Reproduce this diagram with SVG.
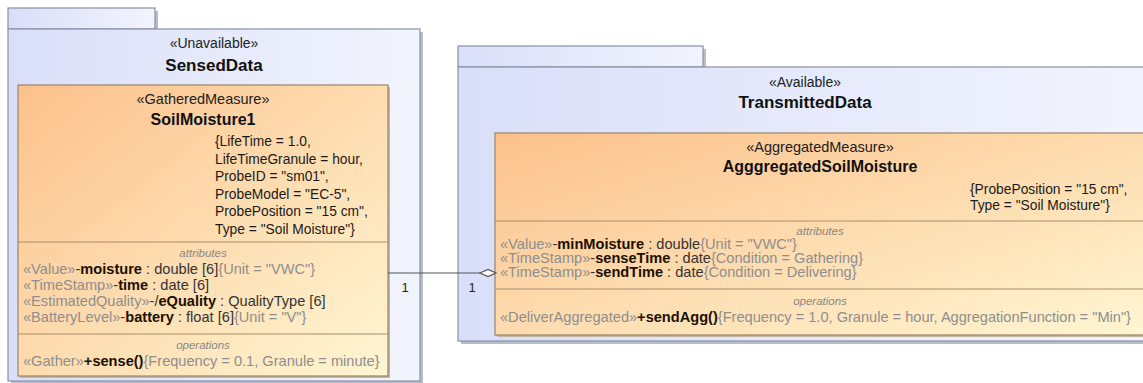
<svg xmlns="http://www.w3.org/2000/svg" width="1143" height="383" viewBox="0 0 1143 383">
<style>
text{font-family:"Liberation Sans",Arial,sans-serif;fill:#222}
.pst{font-size:14px}
.pname{font-size:17px;font-weight:bold;fill:#111}
.cst{font-size:14.5px}
.cname{font-size:16px;font-weight:bold;fill:#111}
.tag{font-size:13.8px;fill:#1a1a1a}
.row{font-size:14.6px;fill:#333}
.comp{font-size:11.5px;font-style:italic;fill:#888}
.g{fill:#8e8e8e}
.b{font-weight:bold;fill:#1c1000}
.pkg{stroke:#8a90a6;stroke-width:1.2}
.pshadow{fill:#b9bdca}
.cls{fill:url(#clsGrad);stroke:#9c8466;stroke-width:1.2}
.cshadow{fill:#c4b7a2}
.div{stroke:#a88d6c;stroke-width:1.2}
.mult{font-size:13px;fill:#222}
</style>
<defs>
<linearGradient id="pkgGrad" x1="0" y1="0" x2="1" y2="0">
<stop offset="0" stop-color="#d9dff9"/>
<stop offset="1" stop-color="#f2f4fd"/>
</linearGradient>
<linearGradient id="clsGrad" x1="0" y1="0" x2="1" y2="1">
<stop offset="0" stop-color="#fcc18b"/>
<stop offset="1" stop-color="#fff6d3"/>
</linearGradient>
</defs>
<rect width="1143" height="383" fill="#ffffff"/>

<g id="SensedData">
<rect class="pshadow" x="11" y="11" width="147" height="21"/>
<rect class="pshadow" x="11" y="32" width="412" height="352"/>
<rect class="pkg" fill="url(#pkgGrad)" x="8" y="8" width="147" height="21"/>
<rect class="pkg" fill="url(#pkgGrad)" x="8" y="29" width="412" height="352"/>
<text class="pst" x="214" y="48" text-anchor="middle">«Unavailable»</text>
<text class="pname" x="214" y="71" text-anchor="middle">SensedData</text>
</g>

<g id="SoilMoisture1">
<rect class="cshadow" x="20" y="87" width="370" height="291"/>
<rect class="cls" x="18" y="85" width="370" height="291"/>
<text class="cst" x="203" y="104" text-anchor="middle">«GatheredMeasure»</text>
<text class="cname" x="203" y="125" text-anchor="middle">SoilMoisture1</text>
<text class="tag" x="215" y="146">{LifeTime = 1.0,</text>
<text class="tag" x="215" y="163.5">LifeTimeGranule = hour,</text>
<text class="tag" x="215" y="181">ProbeID = "sm01",</text>
<text class="tag" x="215" y="198.5">ProbeModel = "EC-5",</text>
<text class="tag" x="215" y="216">ProbePosition = "15 cm",</text>
<text class="tag" x="215" y="233.5">Type = "Soil Moisture"}</text>
<line class="div" x1="18" y1="242" x2="388" y2="242"/>
<text class="comp" x="203" y="257" text-anchor="middle">attributes</text>
<text class="row" x="23" y="274"><tspan class="g">«Value»</tspan>-<tspan class="b">moisture</tspan> : double [6]<tspan class="g">{Unit = "VWC"}</tspan></text>
<text class="row" x="23" y="290"><tspan class="g">«TimeStamp»</tspan>-<tspan class="b">time</tspan> : date [6]</text>
<text class="row" x="23" y="305.5"><tspan class="g">«EstimatedQuality»</tspan>-/<tspan class="b">eQuality</tspan> : QualityType [6]</text>
<text class="row" x="23" y="321.5"><tspan class="g">«BatteryLevel»</tspan>-<tspan class="b">battery</tspan> : float [6]<tspan class="g">{Unit = "V"}</tspan></text>
<line class="div" x1="18" y1="334" x2="388" y2="334"/>
<text class="comp" x="203" y="349" text-anchor="middle">operations</text>
<text class="row" x="23" y="366"><tspan class="g">«Gather»</tspan><tspan class="b">+sense()</tspan><tspan class="g">{Frequency = 0.1, Granule = minute}</tspan></text>
</g>

<g id="TransmittedData">
<rect class="pshadow" x="461" y="49" width="245" height="21"/>
<rect class="pshadow" x="461" y="70" width="700" height="274"/>
<rect class="pkg" fill="url(#pkgGrad)" x="458" y="46" width="245" height="21"/>
<rect class="pkg" fill="url(#pkgGrad)" x="458" y="67" width="700" height="274"/>
<text class="pst" x="805" y="87" text-anchor="middle">«Available»</text>
<text class="pname" x="805" y="108" text-anchor="middle">TransmittedData</text>
</g>

<g id="AgggregatedSoilMoisture">
<rect class="cshadow" x="497" y="135" width="660" height="202"/>
<rect class="cls" x="495" y="133" width="660" height="202"/>
<text class="cst" x="820" y="152" text-anchor="middle">«AggregatedMeasure»</text>
<text class="cname" x="820" y="172" text-anchor="middle">AgggregatedSoilMoisture</text>
<text class="tag" x="970" y="194">{ProbePosition = "15 cm",</text>
<text class="tag" x="970" y="210">Type = "Soil Moisture"}</text>
<line class="div" x1="495" y1="221" x2="1155" y2="221"/>
<text class="comp" x="820" y="235" text-anchor="middle">attributes</text>
<text class="row" x="500" y="249"><tspan class="g">«Value»</tspan>-<tspan class="b">minMoisture</tspan> : double<tspan class="g">{Unit = "VWC"}</tspan></text>
<text class="row" x="500" y="263"><tspan class="g">«TimeStamp»</tspan>-<tspan class="b">senseTime</tspan> : date<tspan class="g">{Condition = Gathering}</tspan></text>
<text class="row" x="500" y="277"><tspan class="g">«TimeStamp»</tspan>-<tspan class="b">sendTime</tspan> : date<tspan class="g">{Condition = Delivering}</tspan></text>
<line class="div" x1="495" y1="289" x2="1155" y2="289"/>
<text class="comp" x="820" y="305" text-anchor="middle">operations</text>
<text class="row" x="500" y="322"><tspan class="g">«DeliverAggregated»</tspan><tspan class="b">+sendAgg()</tspan><tspan class="g">{Frequency = 1.0, Granule = hour, AggregationFunction = "Min"}</tspan></text>
</g>

<g id="connectors">
<line x1="388" y1="273" x2="480" y2="273" stroke="#555" stroke-width="1.2"/>
<polygon points="480,273 488,269.5 496,273 488,276.5" fill="#ffffff" stroke="#555" stroke-width="1.2"/>
<text class="mult" x="405" y="292" text-anchor="middle">1</text>
<text class="mult" x="472" y="292" text-anchor="middle">1</text>
</g>
</svg>
